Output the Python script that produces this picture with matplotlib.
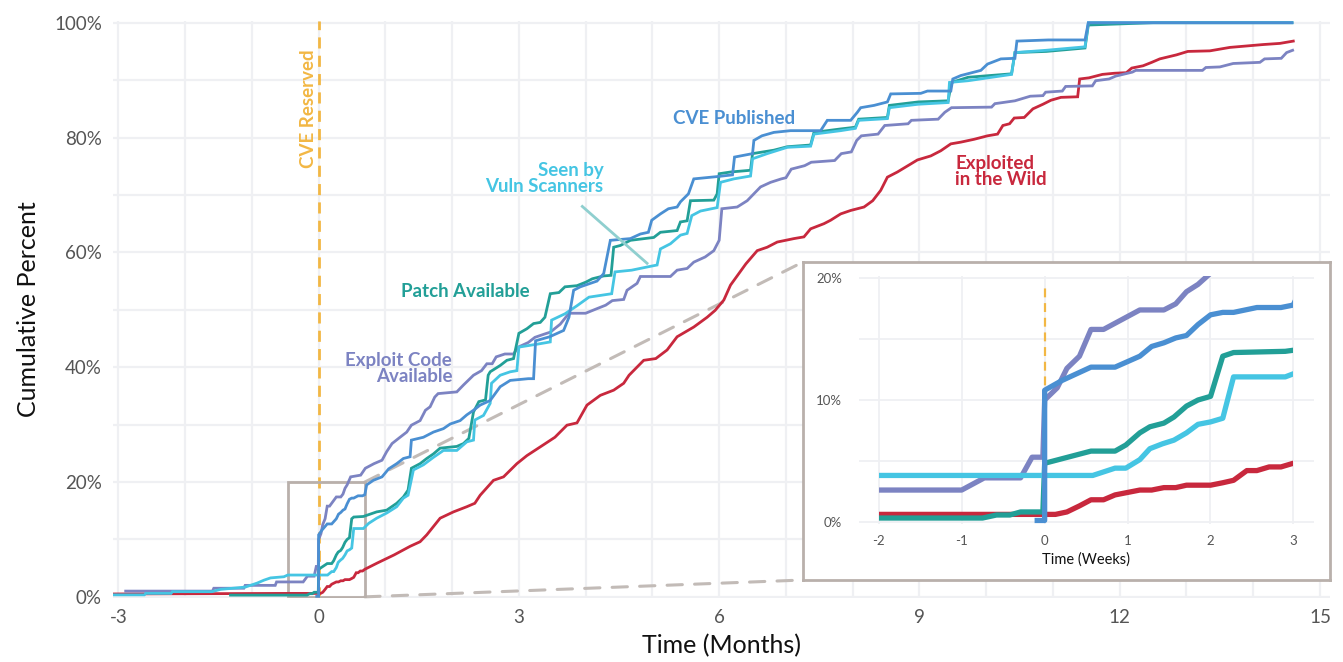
import matplotlib
matplotlib.use("Agg")
import matplotlib.pyplot as plt
import numpy as np
from matplotlib.patches import Rectangle, ConnectionPatch
from matplotlib.ticker import MultipleLocator, FuncFormatter

plt.rcParams['font.family'] = ['Lato', 'DejaVu Sans']
plt.rcParams['axes.unicode_minus'] = False

# ---------------- data (x in months since CVE reserved, y in cumulative %) ----------------
exploit_x = [-2.89, -1.59, -1.57, -1.12, -1.10, -0.65, -0.63, -0.231, -0.168, -0.067, -0.035, -0.005, 0.0,
             0.035, 0.062, 0.097, 0.129, 0.164, 0.265, 0.332, 0.365, 0.395, 0.427, 0.48, 0.63, 0.70, 0.83,
             0.95, 1.02, 1.10, 1.22, 1.32, 1.39, 1.52, 1.60, 1.67, 1.74, 1.79, 2.07, 2.17, 2.32, 2.44, 2.52,
             2.60, 2.66, 2.79, 2.92, 2.99, 3.14, 3.24, 3.39, 3.47, 3.62, 3.75, 4.0, 4.17, 4.3, 4.4, 4.57,
             4.62, 4.77, 4.82, 5.27, 5.37, 5.52, 5.62, 5.79, 5.92, 6.0, 6.04, 6.27, 6.42, 6.62, 6.77, 6.93,
             7.0, 7.08, 7.28, 7.38, 7.73, 7.83, 7.98, 8.06, 8.13, 8.38, 8.48, 8.83, 8.88, 9.28, 9.38, 9.48,
             10.08, 10.13, 10.43, 10.66, 10.85, 10.89, 11.14, 11.19, 11.59, 11.64, 11.84, 11.94, 12.19,
             12.24, 13.24, 13.29, 13.5, 13.7, 14.1, 14.17, 14.42, 14.5, 14.59]
exploit_y = [1.0, 1.0, 1.5, 1.5, 2.0, 2.0, 2.6, 2.6, 3.6, 3.6, 5.3, 5.3, 10.0,
             11.0, 12.6, 13.6, 15.8, 15.8, 17.4, 17.4, 17.9, 18.9, 19.5, 20.9, 21.2, 22.4, 23.2,
             23.8, 25.3, 26.7, 27.8, 28.7, 29.9, 30.7, 32.5, 33.1, 34.8, 35.4, 35.7, 36.9, 38.6, 39.4, 40.6,
             40.6, 41.8, 42.3, 42.3, 43.5, 44.3, 45.2, 45.8, 46.1, 47.5, 49.4, 49.4, 50.2, 50.8, 51.6, 51.8,
             53.4, 54.6, 55.8, 55.8, 56.9, 57.2, 58.3, 59.2, 60.3, 62.1, 67.6, 67.9, 69.0, 71.4, 72.2, 72.8,
             73.0, 74.5, 75.1, 75.7, 76.0, 77.2, 77.5, 79.5, 80.3, 80.6, 82.1, 82.4, 83.0, 83.2, 84.4, 85.2,
             85.3, 85.9, 86.4, 87.2, 87.3, 87.9, 88.1, 88.9, 89.0, 89.9, 90.2, 90.7, 91.4,
             91.7, 91.7, 92.2, 92.3, 92.9, 93.1, 93.7, 93.8, 94.8, 95.2]

wild_x = [-3.07, -0.462, 0.030, 0.062, 0.097, 0.129, 0.164, 0.196, 0.265, 0.298, 0.332, 0.365, 0.395,
          0.462, 0.496, 0.526, 0.563, 0.591, 0.625, 0.658, 0.692, 0.88, 1.13, 1.37, 1.52, 1.62, 1.82,
          2.02, 2.22, 2.34, 2.42, 2.62, 2.77, 2.97, 3.12, 3.37, 3.54, 3.72, 3.87, 4.02, 4.22, 4.42, 4.57,
          4.65, 4.87, 5.05, 5.22, 5.37, 5.62, 5.82, 5.94, 6.07, 6.17, 6.4, 6.57, 6.72, 6.87, 7.12, 7.27,
          7.37, 7.57, 7.67, 7.82, 7.97, 8.17, 8.3, 8.42, 8.52, 8.67, 8.87, 8.97, 9.17, 9.32, 9.47, 9.62,
          9.82, 10.02, 10.17, 10.25, 10.35, 10.42, 10.57, 10.70, 10.85, 10.97, 11.12, 11.37, 11.40, 11.54,
          11.74, 11.92, 12.1, 12.18, 12.35, 12.48, 12.6, 12.85, 13.02, 13.35, 13.65, 13.85, 14.15, 14.4, 14.6]
wild_y = [0.5, 0.6, 0.6, 0.8, 1.3, 1.8, 1.8, 2.2, 2.6, 2.6, 2.8, 2.8, 3.0,
          3.0, 3.2, 3.4, 4.2, 4.2, 4.5, 4.5, 4.8, 5.9, 7.3, 8.8, 9.6, 10.8, 13.7,
          14.8, 15.7, 16.3, 17.7, 20.3, 20.9, 23.2, 24.6, 26.5, 27.8, 29.9, 30.3, 33.4, 35.1, 36.0, 37.2,
          38.6, 41.2, 41.5, 43.0, 45.3, 47.0, 48.7, 49.9, 51.7, 54.3, 58.0, 60.3, 60.9, 61.8, 62.4, 62.7,
          64.1, 65.0, 65.6, 66.7, 67.3, 67.9, 69.0, 70.8, 73.1, 74.0, 75.4, 76.1, 76.8, 77.7, 78.9, 79.2,
          79.7, 80.3, 80.6, 82.1, 82.4, 83.4, 83.5, 85.0, 85.8, 86.5, 87.0, 87.1, 90.2, 90.4,
          91.0, 91.2, 91.3, 92.1, 92.5, 93.1, 93.7, 94.4, 95.0, 95.1, 95.7, 95.9, 96.2, 96.4, 96.8]

patch_x = [-1.32, -0.173, -0.134, -0.097, -0.067, -0.005, 0.0, 0.129, 0.196, 0.226, 0.265, 0.293, 0.332,
           0.360, 0.395, 0.427, 0.462, 0.496, 0.526, 0.67, 0.87, 1.02, 1.17, 1.27, 1.34, 1.39, 1.52, 1.62,
           1.72, 1.82, 2.07, 2.17, 2.25, 2.32, 2.40, 2.50, 2.54, 2.57, 2.72, 2.82, 2.92, 3.0, 3.12, 3.22,
           3.32, 3.39, 3.47, 3.6, 3.69, 3.87, 4.0, 4.1, 4.27, 4.38, 4.42, 4.52, 4.67, 5.02, 5.12, 5.37,
           5.42, 5.52, 5.57, 5.92, 5.97, 6.0, 6.17, 6.47, 6.5, 6.82, 7.02, 7.37, 7.42, 7.82, 8.04, 8.09,
           8.52, 8.55, 8.98, 9.43, 9.48, 9.73, 10.38, 10.43, 10.9, 11.48, 11.53, 12.5, 14.58]
patch_y = [0.3, 0.3, 0.55, 0.55, 0.8, 0.8, 4.8, 5.8, 5.8, 6.3, 7.3, 7.8, 8.1,
           8.6, 9.5, 10.0, 10.3, 13.6, 13.9, 14.0, 14.8, 15.1, 16.3, 17.4, 18.6, 22.4, 23.2, 24.1,
           24.9, 25.9, 26.2, 26.7, 27.6, 32.2, 34.0, 34.3, 38.6, 39.2, 40.3, 41.2, 41.5, 45.9, 46.7, 47.6,
           47.8, 48.7, 52.8, 53.0, 54.0, 54.2, 54.8, 55.4, 55.9, 56.0, 60.9, 61.2, 62.1, 62.6, 63.5, 63.8,
           65.3, 65.5, 69.0, 69.1, 70.2, 73.7, 74.0, 74.3, 77.2, 77.8, 78.4, 78.7, 80.9, 81.5, 81.8, 83.2,
           83.5, 85.6, 86.2, 86.4, 89.6, 90.5, 91.1, 94.8, 95.0, 95.6, 99.6, 100.0, 100.0]

scan_x = [-3.07, -2.61, -2.59, -2.21, -2.19, -1.6, -1.47, -1.1, -0.92, -0.82, -0.72, -0.52, -0.462,
          0.134, 0.196, 0.226, 0.265, 0.293, 0.328, 0.360, 0.395, 0.427, 0.462, 0.496, 0.526, 0.67, 0.75,
          0.87, 1.02, 1.17, 1.27, 1.34, 1.42, 1.57, 1.72, 1.87, 2.07, 2.22, 2.32, 2.34, 2.47, 2.57, 2.59,
          2.72, 2.87, 2.97, 3.0, 3.32, 3.47, 3.49, 3.69, 3.87, 4.05, 4.39, 4.44, 4.69, 4.94, 5.07, 5.12,
          5.27, 5.42, 5.52, 5.59, 5.72, 5.97, 6.02, 6.22, 6.47, 6.5, 6.72, 7.02, 7.37, 7.42, 7.82, 8.04,
          8.09, 8.52, 8.55, 8.98, 9.43, 9.45, 9.73, 10.38, 10.43, 10.9, 11.48, 11.53, 14.58]
scan_y = [0.35, 0.35, 0.6, 0.6, 0.9, 0.9, 1.3, 1.7, 2.4, 2.9, 3.3, 3.5, 3.8,
          3.8, 4.4, 4.4, 5.1, 6.0, 6.4, 6.7, 7.3, 8.0, 8.2, 8.5, 11.9, 11.9, 12.8,
          13.7, 14.6, 15.7, 17.2, 17.7, 22.1, 23.0, 24.3, 25.5, 25.5, 27.0, 27.3, 30.8, 31.6, 33.7, 37.2,
          38.6, 39.2, 39.4, 43.5, 44.1, 44.4, 48.2, 49.3, 50.7, 52.2, 52.8, 56.6, 56.9, 57.5, 57.8, 60.6,
          61.5, 63.0, 63.3, 66.4, 67.2, 67.8, 72.2, 72.8, 73.3, 76.3, 77.2, 78.3, 78.5, 80.6, 81.2, 81.6,
          83.0, 83.3, 85.2, 85.8, 86.1, 89.6, 89.9, 91.0, 94.8, 95.2, 95.8, 100.0, 100.0]

pub_x = [-0.028, 0.0, 0.0, 0.048, 0.129, 0.196, 0.265, 0.298, 0.332, 0.365, 0.395, 0.427, 0.462, 0.496,
         0.526, 0.591, 0.658, 0.692, 0.72, 0.82, 0.95, 1.05, 1.17, 1.27, 1.37, 1.39, 1.57, 1.72, 1.87,
         1.97, 2.12, 2.22, 2.32, 2.42, 2.57, 2.72, 2.87, 3.14, 3.22, 3.25, 3.46, 3.67, 3.75, 3.82, 3.92,
         4.07, 4.17, 4.27, 4.37, 4.67, 4.82, 4.94, 4.99, 5.12, 5.24, 5.37, 5.42, 5.54, 5.62, 5.97, 6.2,
         6.23, 6.5, 6.52, 6.64, 6.82, 7.07, 7.52, 7.62, 7.97, 8.07, 8.12, 8.32, 8.52, 8.57, 9.02, 9.12,
         9.47, 9.5, 9.62, 9.92, 10.02, 10.22, 10.43, 10.46, 10.93, 11.48, 11.53, 14.58]
pub_y = [0.1, 0.1, 10.8, 11.6, 12.7, 12.7, 13.6, 14.4, 14.7, 15.1, 15.3, 16.2, 17.0, 17.2,
         17.2, 17.6, 17.6, 17.8, 19.5, 20.3, 20.9, 22.3, 23.2, 24.1, 24.4, 27.3, 27.8, 28.7, 29.3,
         30.1, 30.7, 31.7, 32.5, 33.4, 34.2, 36.6, 37.7, 38.0, 38.0, 44.6, 45.3, 46.4, 48.7, 53.4, 54.0,
         54.6, 55.0, 56.3, 62.1, 62.4, 63.2, 63.5, 65.6, 66.7, 67.6, 67.9, 68.8, 70.2, 72.8, 73.2, 73.5,
         76.6, 77.2, 79.5, 80.3, 80.9, 81.2, 81.2, 83.0, 83.0, 84.4, 85.2, 85.6, 86.2, 87.6, 87.7, 88.1,
         88.1, 90.2, 90.8, 91.7, 92.8, 93.7, 93.8, 96.8, 97.0, 97.0, 100.0, 100.0]

# series: (x, y, colour, label), drawn in this order
series = [
    (wild_x, wild_y, '#c8283d', 'Exploited in the Wild'),
    (exploit_x, exploit_y, '#7c83c2', 'Exploit Code Available'),
    (patch_x, patch_y, '#229f97', 'Patch Available'),
    (scan_x, scan_y, '#45c5e3', 'Seen by Vuln Scanners'),
    (pub_x, pub_y, '#4a8fd2', 'CVE Published'),
]

x_ticks = [-3, 0, 3, 6, 9, 12, 15]
y_ticks = [0, 20, 40, 60, 80, 100]
inset_x_ticks = [-2, -1, 0, 1, 2, 3]
inset_y_ticks = [0, 10, 20]
WEEKS_PER_MONTH = 52 / 12

ORANGE = '#f2b744'
GRID = '#eff0f3'
BOXGRAY = '#b9b0ab'
TICKC = '#555555'

W, H = 1343, 662
fig = plt.figure(figsize=(W / 100, H / 100), dpi=100)

def fx(px):
    return px / W

def fy(py):
    return 1 - py / H

# ---------------- main axes ----------------
ax = fig.add_axes([fx(113), fy(598), fx(1330) - fx(113), fy(21) - fy(598)])
ax.set_xlim(-3.08, 15.15)
ax.set_ylim(-0.2, 100.3)
ax.set_xticks(x_ticks)
ax.set_yticks(y_ticks)
ax.xaxis.set_minor_locator(MultipleLocator(1))
ax.yaxis.set_minor_locator(MultipleLocator(10))
ax.yaxis.set_major_formatter(FuncFormatter(lambda v, p: f"{int(v)}%"))
ax.grid(True, which='both', color=GRID, lw=1.6, zorder=0)
ax.set_axisbelow(True)
for s in ax.spines.values():
    s.set_visible(False)
ax.tick_params(which='both', length=0, labelsize=13.5, colors=TICKC, pad=8)
ax.set_xlabel('Time (Months)', fontsize=18, color='#111111', labelpad=6)
ax.set_ylabel('Cumulative Percent', fontsize=18, color='#111111', labelpad=10)

ax.axvline(0, color=ORANGE, lw=2, ls=(0, (4, 2.6)), zorder=1)
ax.add_patch(Rectangle((-0.462, 0), 0.692 + 0.462, 20, fill=False, ec=BOXGRAY, lw=2, zorder=1.6))

for x, y, c, lab in series:
    ax.plot(x, y, color=c, lw=2, zorder=2, solid_joinstyle='miter')

# annotations
bold = dict(fontweight='bold', fontsize=13.5)
ax.text(-0.15, 85.1, 'CVE Reserved', rotation=90, color=ORANGE, ha='center', va='center', **bold)
ax.text(6.23, 83.3, 'CVE Published', color='#4a8fd2', ha='center', va='center', **bold)
ax.text(4.27, 72.9, 'Seen by\nVuln Scanners', color='#45c5e3', ha='right', va='center',
        multialignment='right', linespacing=0.95, **bold)
ax.text(2.2, 53.1, 'Patch Available', color='#229f97', ha='center', va='center', **bold)
ax.text(2.0, 39.8, 'Exploit Code\nAvailable', color='#7c83c2', ha='right', va='center',
        multialignment='right', linespacing=0.95, **bold)
ax.text(9.54, 74.1, 'Exploited\nin the Wild', color='#c8283d', ha='left', va='center',
        multialignment='left', linespacing=0.95, **bold)
ax.plot([3.95, 4.92], [68.0, 58.1], color='#8fcfcf', lw=2, zorder=3)

# ---------------- inset frame ----------------
frame = fig.add_axes([fx(803), fy(580), fx(1330) - fx(803), fy(262) - fy(580)])
frame.set_xticks([])
frame.set_yticks([])
frame.set_facecolor('white')
for s in frame.spines.values():
    s.set_color(BOXGRAY)
    s.set_linewidth(2)
frame.set_zorder(5)

for xyA, xyB in [((0.692, 20), (0, 1)), ((0.692, 0), (0, 0))]:
    con = ConnectionPatch(xyA=xyA, coordsA=ax.transData, xyB=xyB, coordsB=frame.transAxes,
                          color='#c2bbb7', lw=2.2, ls=(0, (5, 4)), zorder=1.5)
    ax.add_artist(con)

# ---------------- inset axes ----------------
ins = fig.add_axes([fx(859), fy(524), fx(1314) - fx(859), fy(276) - fy(524)])
ins.set_zorder(6)
ins.patch.set_alpha(0)
ins.set_xlim(-2.24, 3.25)
ins.set_ylim(-0.19, 20.19)
ins.set_xticks(inset_x_ticks)
ins.set_yticks(inset_y_ticks)
ins.yaxis.set_minor_locator(MultipleLocator(5))
ins.yaxis.set_major_formatter(FuncFormatter(lambda v, p: f"{int(v)}%"))
ins.grid(True, which='both', color=GRID, lw=1.3, zorder=0)
ins.set_axisbelow(True)
for s in ins.spines.values():
    s.set_visible(False)
ins.tick_params(which='both', length=0, labelsize=9.5, colors=TICKC, pad=8)
ins.tick_params(axis='y', pad=12)
ins.set_xlabel('Time (Weeks)', fontsize=10.5, color='#111111', labelpad=4)

# clip the inset lines to the -2..3 week window (and the axes' own y range)
clip = Rectangle((-2, -0.19), 5, 20.38, transform=ins.transData)
ins.plot([0, 0], [10, 19.6], color=ORANGE, lw=1.6, ls=(0, (4, 2.6)), zorder=1)
for x, y, c, lab in series:
    xw = np.asarray(x) * WEEKS_PER_MONTH
    ln, = ins.plot(xw, y, color=c, lw=3.8, zorder=2, solid_capstyle='butt')
    ln.set_clip_path(clip)

fig.savefig('out.png', dpi=100)
